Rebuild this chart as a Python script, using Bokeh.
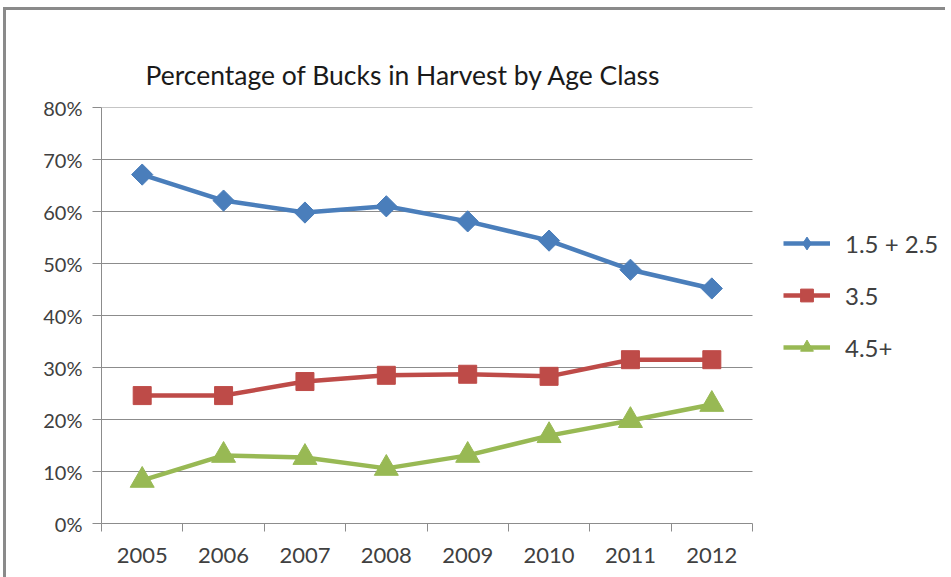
import math
from bokeh.plotting import figure
from bokeh.models import (ColumnDataSource, Legend, LegendItem, FixedTicker,
                          PrintfTickFormatter, Range1d, Title)
from bokeh.embed import file_html
from bokeh.resources import INLINE

# ---- data ----
years = ["2005", "2006", "2007", "2008", "2009", "2010", "2011", "2012"]
young = [67.1, 62.1, 59.8, 61.0, 58.1, 54.4, 48.8, 45.2]     # 1.5 + 2.5
mid = [24.6, 24.6, 27.3, 28.5, 28.7, 28.3, 31.5, 31.5]       # 3.5
old = [8.3, 13.1, 12.7, 10.6, 13.1, 16.9, 19.8, 22.9]        # 4.5+
series_names = ["1.5 + 2.5", "3.5", "4.5+"]
y_ticks = [0, 10, 20, 30, 40, 50, 60, 70, 80]

FONT = "Lato"
TXT = "#404040"
GRID = "#8c8c8c"

PLOT_W = 651          # pixel width of the data area
FRAME_W = 844         # frame also hosts the legend on the right
n = len(years)
xs = [i + 0.5 for i in range(n)]
src = ColumnDataSource(dict(x=xs, young=young, mid=mid, old=old))
# legend-only proxy source (NaN: never drawn in the plot area)
proxy = ColumnDataSource(dict(x=[float("nan")], y=[float("nan")]))

p = figure(frame_width=FRAME_W, frame_height=416, output_backend="svg",
           toolbar_location=None,
           x_range=Range1d(0, n * FRAME_W / PLOT_W), y_range=Range1d(0, 80),
           min_border_left=95, min_border_right=0, min_border_top=97,
           min_border_bottom=54)
p.styles = {"border-top": "3px solid #8a8a8a", "border-left": "3px solid #8a8a8a",
            "margin-top": "7px", "margin-left": "3px"}
p.outline_line_color = None
p.background_fill_color = "white"
p.border_fill_color = "white"

title = Title(text="Percentage of Bucks in Harvest by Age Class", align="left",
              offset=44, standoff=34, text_font=FONT, text_font_size="26.5px",
              text_font_style="normal", text_color="#1a1a1a")
p.add_layout(title, "above")

# axes
p.xaxis.ticker = FixedTicker(ticks=xs, minor_ticks=list(range(n + 1)))
p.xaxis.major_label_overrides = {x: y for x, y in zip(xs, years)}
p.xaxis.bounds = (0, n)
p.xaxis.major_tick_line_color = None
p.xaxis.minor_tick_line_color = GRID
p.xaxis.minor_tick_out = 8
p.xaxis.minor_tick_in = 0
p.xaxis.axis_line_color = GRID
p.xaxis.major_label_text_font = FONT
p.xaxis.major_label_text_font_size = "22px"
p.xaxis.major_label_text_color = TXT
p.xaxis.major_label_standoff = 16

p.yaxis.ticker = FixedTicker(ticks=y_ticks, minor_ticks=[])
p.yaxis.formatter = PrintfTickFormatter(format="%d%%")
p.yaxis.axis_line_color = GRID
p.yaxis.major_tick_line_color = GRID
p.yaxis.major_tick_out = 9
p.yaxis.major_tick_in = 0
p.yaxis.major_label_text_font = FONT
p.yaxis.major_label_text_font_size = "20px"
p.yaxis.major_label_text_color = TXT
p.yaxis.major_label_standoff = 10

p.xgrid.grid_line_color = None
p.ygrid.grid_line_color = None
# horizontal gridlines limited to the data area
gt = y_ticks[1:]
p.segment(x0=[0] * len(gt), x1=[n] * len(gt), y0=gt, y1=gt,
          line_color=GRID, line_width=1)

blue, red, green = "#4a7ebb", "#be4b48", "#98b954"
l1 = p.line("x", "young", source=src, line_color=blue, line_width=4.5)
p.scatter("x", "young", source=src, marker="square", size=15,
          angle=math.pi / 4, fill_color=blue, line_color=blue)
l2 = p.line("x", "mid", source=src, line_color=red, line_width=4.5)
p.scatter("x", "mid", source=src, marker="square", size=18,
          fill_color=red, line_color=red)
l3 = p.line("x", "old", source=src, line_color=green, line_width=4.5)
p.scatter("x", "old", source=src, marker="triangle", size=24,
          fill_color=green, line_color=green)

# legend-only marker proxies (as in the original's legend)
k1 = p.scatter("x", "y", source=proxy, marker="diamond", size=16,
               fill_color=blue, line_color=blue)
k2 = p.scatter("x", "y", source=proxy, marker="square", size=13,
               fill_color=red, line_color=red)
k3 = p.scatter("x", "y", source=proxy, marker="triangle", size=14,
               fill_color=green, line_color=green)

legend = Legend(items=[LegendItem(label=series_names[0], renderers=[l1, k1]),
                       LegendItem(label=series_names[1], renderers=[l2, k2]),
                       LegendItem(label=series_names[2], renderers=[l3, k3])],
                location=(682, 160), orientation="vertical")
legend.border_line_color = None
legend.background_fill_alpha = 0
legend.margin = 0
legend.padding = 0
legend.glyph_width = 47
legend.glyph_height = 32
legend.label_height = 32
legend.spacing = 20
legend.label_standoff = 15
legend.label_text_font = FONT
legend.label_text_font_size = "24px"
legend.label_text_color = TXT
p.add_layout(legend)

open("out.html", "w").write(file_html(p, INLINE))
